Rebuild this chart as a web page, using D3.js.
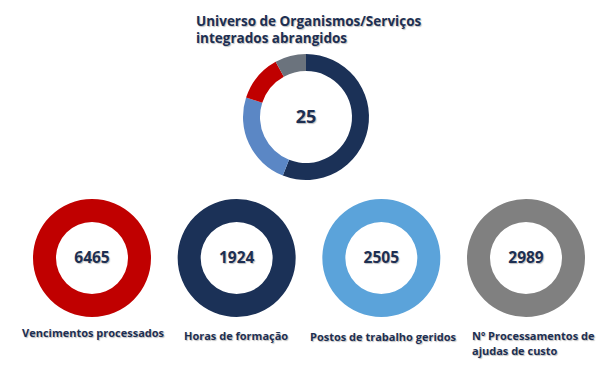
<!DOCTYPE html>
<html>
<head>
<meta charset="utf-8">
<script src="https://cdn.jsdelivr.net/npm/d3@7"></script>
<style>
  body { margin: 0; background: #fff; }
  text { font-family: "Open Sans", "DejaVu Sans", sans-serif; font-weight: 700; fill: #1d2f52;
         text-shadow: 1px 1px 1px rgba(0,0,0,0.25); }
</style>
</head>
<body>
<svg id="chart" width="613" height="365"></svg>
<script>
// Top donut: universe of organisms/services
const topTitle = ["Universo de Organismos/Serviços", "integrados abrangidos"];
const topTotal = 25;
const topParts = [14, 6, 3, 2];
const topColors = ["#1b3157", "#5b87c5", "#c00000", "#6b737d"];

// Bottom KPI donuts
const kpiValues = [6465, 1924, 2505, 2989];
const kpiLabels = [
  ["Vencimentos processados"],
  ["Horas de formação"],
  ["Postos de trabalho geridos"],
  ["Nº Processamentos de", "ajudas de custo"]
];
const kpiColors = ["#c00000", "#1b3157", "#5ba3da", "#808080"];

const svg = d3.select("#chart");

const pie = d3.pie().sort(null).value(d => d);

// top donut
const topG = svg.append("g").attr("transform", "translate(306,117)");
const topArc = d3.arc().innerRadius(46).outerRadius(63);
topG.selectAll("path")
  .data(pie(topParts))
  .join("path")
  .attr("d", topArc)
  .attr("fill", (d, i) => topColors[i]);
topG.append("text")
  .attr("text-anchor", "middle")
  .attr("dy", "0.35em")
  .style("font-size", "18px")
  .text(topTotal);

svg.append("g").selectAll("text")
  .data(topTitle)
  .join("text")
  .attr("x", 196)
  .attr("y", (d, i) => 26 + i * 17)
  .style("font-size", "13.5px")
  .text(d => d);

// bottom donuts
const xPos = d3.scalePoint().domain(d3.range(kpiValues.length)).range([92, 526]);
const kpiArc = d3.arc().innerRadius(36).outerRadius(59);
const labelX = [22, 184, 310, 472];
const labelY = [337, 340, 341, 340];

kpiValues.forEach((v, i) => {
  const g = svg.append("g").attr("transform", `translate(${xPos(i)},258)`);
  g.selectAll("path")
    .data(pie([v]))
    .join("path")
    .attr("d", kpiArc)
    .attr("fill", kpiColors[i]);
  g.append("text")
    .attr("text-anchor", "middle")
    .attr("dy", "0.35em")
    .style("font-size", "15.5px")
    .text(v);

  svg.append("g").selectAll("text")
    .data(kpiLabels[i])
    .join("text")
    .attr("x", labelX[i])
    .attr("y", (d, j) => labelY[i] + j * 15)
    .style("font-size", "11px")
    .text(d => d);
});
</script>
</body>
</html>
